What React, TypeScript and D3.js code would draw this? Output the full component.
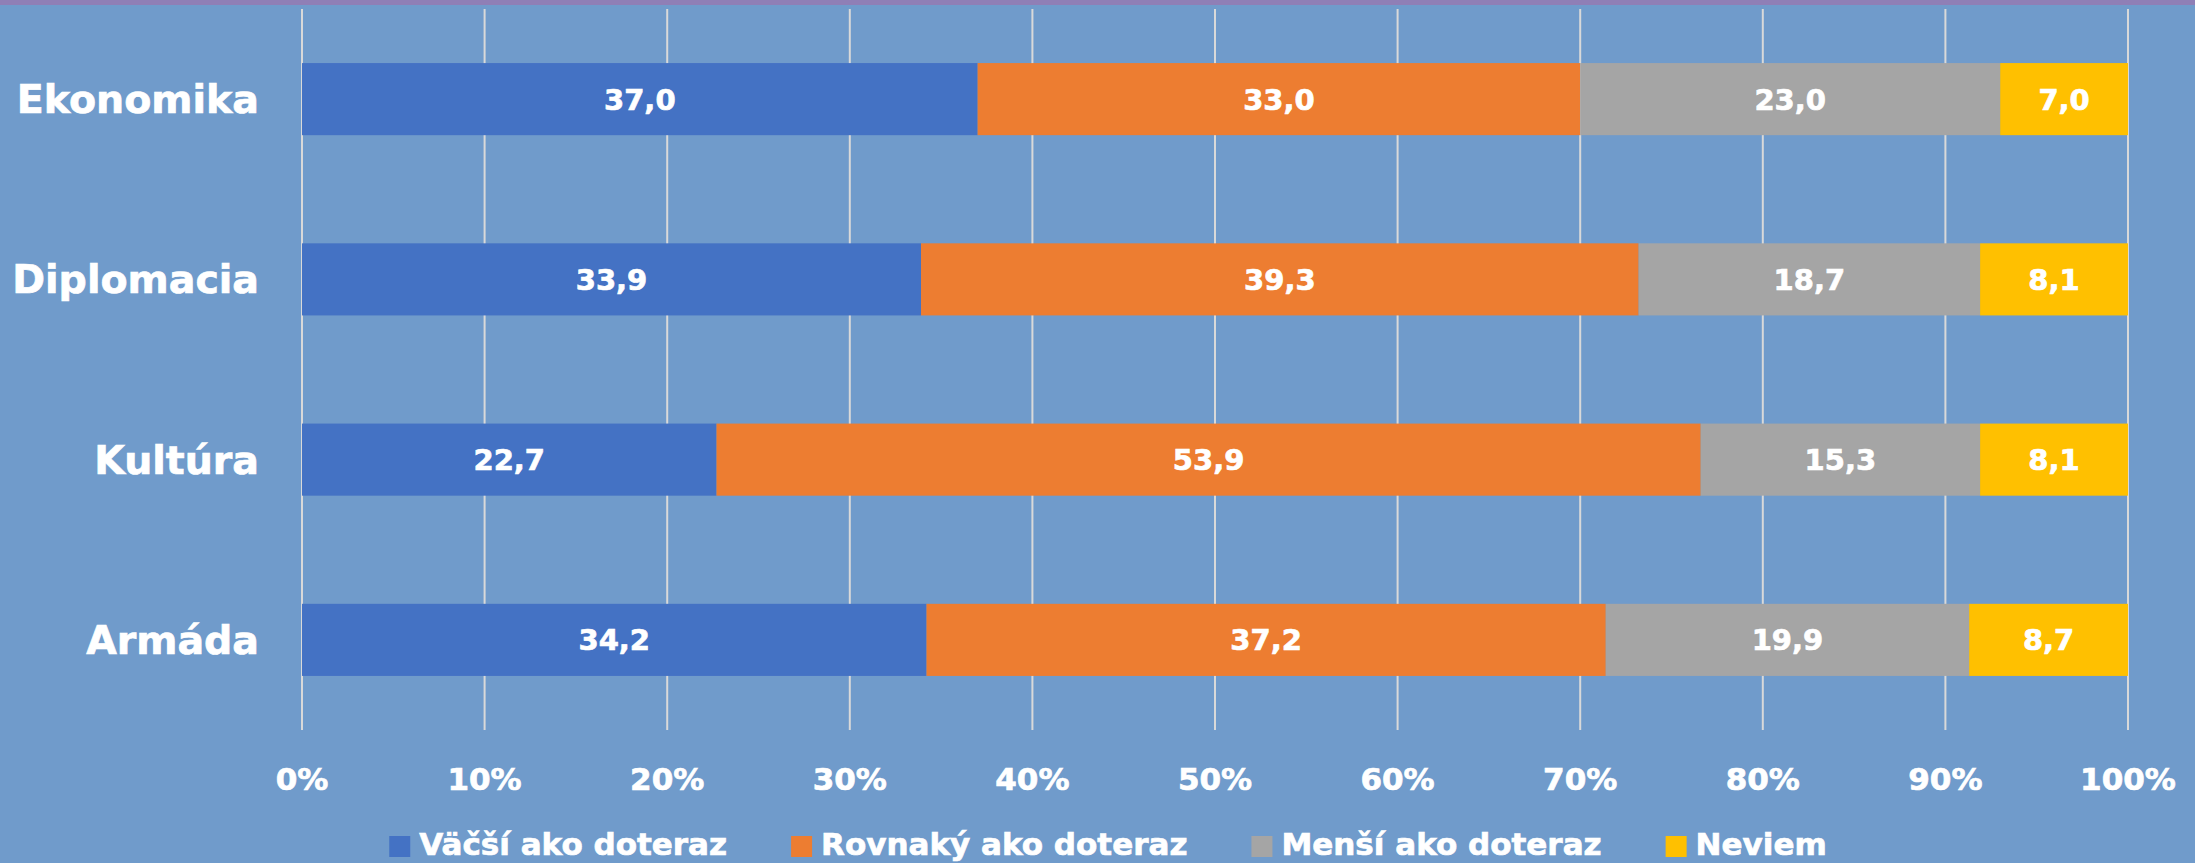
import * as d3 from "d3";
import { useEffect, useMemo } from "react";

const categories = ["Ekonomika", "Diplomacia", "Kultúra", "Armáda"];
const seriesNames = ["Väčší ako doteraz", "Rovnaký ako doteraz", "Menší ako doteraz", "Neviem"];
const vacsi = [37.0, 33.9, 22.7, 34.2];
const rovnaky = [33.0, 39.3, 53.9, 37.2];
const mensi = [23.0, 18.7, 15.3, 19.9];
const neviem = [7.0, 8.1, 8.1, 8.7];
const tickValues = [0, 0.1, 0.2, 0.3, 0.4, 0.5, 0.6, 0.7, 0.8, 0.9, 1];

const colors = ["#4472C4", "#ED7D31", "#A5A5A5", "#FFC000"];
const FONT = "'DejaVu Sans', Verdana, sans-serif";

const W = 2195;
const H = 863;
const margin = { left: 302, right: 67, top: 9, bottom: 133 };

export default function App() {
  useEffect(() => {
    document.body.style.margin = "0";
  }, []);

  const rows = categories.map((c, i) => ({
    cat: c,
    s0: vacsi[i],
    s1: rovnaky[i],
    s2: mensi[i],
    s3: neviem[i],
  }));
  const keys = ["s0", "s1", "s2", "s3"];
  const stacked = d3.stack<any>().keys(keys).offset(d3.stackOffsetExpand)(rows);

  const x = d3.scaleLinear().domain([0, 1]).range([margin.left, W - margin.right]);
  const y = d3
    .scaleBand()
    .domain(categories)
    .range([margin.top, H - margin.bottom])
    .paddingInner(0.6)
    .paddingOuter(0.3);

  // legend layout, measured with canvas
  const legend = useMemo(() => {
    const ctx = document.createElement("canvas").getContext("2d")!;
    ctx.font = `bold 31px ${FONT}`;
    const widths = seriesNames.map((n) => ctx.measureText(n).width);
    const box = 21, gapText = 9, gapItem = 64;
    const total = widths.reduce((a, w) => a + box + gapText + w, 0) + gapItem * (widths.length - 1);
    let cx = 1108 - total / 2;
    return widths.map((w) => {
      const item = { x: cx, w };
      cx += box + gapText + w + gapItem;
      return item;
    });
  }, []);

  // slight outline so the text is as heavy as the original
  const heavy = { stroke: "#fff", strokeWidth: 0.7, paintOrder: "stroke" } as any;

  return (
    <svg width={W} height={H} style={{ display: "block" }} fontFamily={FONT} fontWeight="bold">
      <rect width={W} height={H} fill="#709BCB" />
      <rect width={W} height={5} fill="#8F7FB6" />

      {/* gridlines */}
      {tickValues.map((t) => (
        <line
          key={t}
          x1={x(t)}
          x2={x(t)}
          y1={margin.top}
          y2={H - margin.bottom}
          stroke="#D9D9D9"
          strokeWidth={2}
        />
      ))}

      {/* bars */}
      {stacked.map((layer, si) => (
        <g key={layer.key} fill={colors[si]}>
          {layer.map((d, ci) => (
            <rect
              key={ci}
              x={x(d[0])}
              y={y(categories[ci])!}
              width={x(d[1]) - x(d[0])}
              height={y.bandwidth()}
            />
          ))}
        </g>
      ))}

      {/* data labels */}
      {stacked.map((layer, si) =>
        layer.map((d, ci) => (
          <text
            key={`${si}-${ci}`}
            x={(x(d[0]) + x(d[1])) / 2}
            y={y(categories[ci])! + y.bandwidth() / 2 + 10.5}
            textAnchor="middle"
            fontSize={29}
            fill="#fff"
            {...heavy}
          >
            {(d.data as any)[layer.key].toFixed(1).replace(".", ",")}
          </text>
        ))
      )}

      {/* category labels */}
      {categories.map((c) => (
        <text
          key={c}
          x={259}
          y={y(c)! + y.bandwidth() / 2 + 14}
          textAnchor="end"
          fontSize={39.5}
          fill="#fff"
          {...heavy}
        >
          {c}
        </text>
      ))}

      {/* x axis labels */}
      {tickValues.map((t) => (
        <text key={t} x={x(t)} y={790} textAnchor="middle" fontSize={31} fill="#fff" {...heavy}>
          {d3.format(".0%")(t)}
        </text>
      ))}

      {/* legend */}
      {legend.map((l, i) => (
        <g key={i}>
          <rect x={l.x} y={836} width={21} height={21} fill={colors[i]} />
          <text x={l.x + 30} y={855} fontSize={31} fill="#fff" {...heavy}>
            {seriesNames[i]}
          </text>
        </g>
      ))}
    </svg>
  );
}
